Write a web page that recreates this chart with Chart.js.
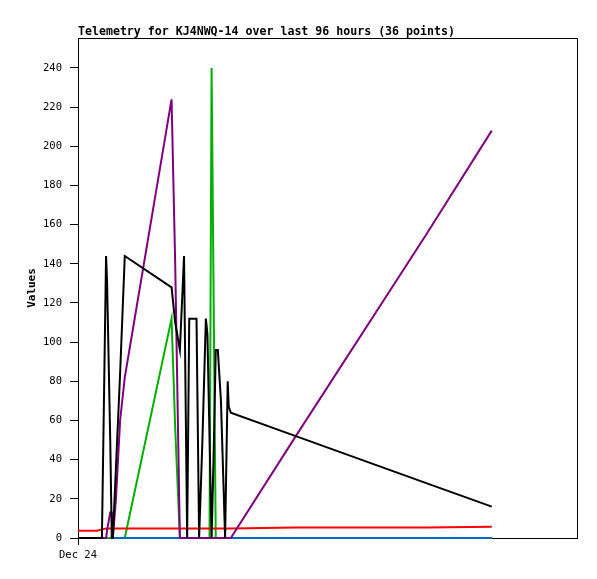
<!DOCTYPE HTML>
<html>
<head>
    <script src="https://cdn.jsdelivr.net/npm/chart.js"></script>
    <style>
        body { margin: 0; background: white; }
    </style>
</head>
<body>

<canvas id="telemetryChart" width="597" height="579"></canvas>

<script type="text/javascript">

    const titleText = 'Telemetry for KJ4NWQ-14 over last 96 hours (36 points)';

    // hours since Dec 24 00:00
    const times = [0, 3.7, 4.6, 5.4, 5.6, 6.2, 6.5, 6.7, 7.3, 8.1,
                   9.0, 18.0, 18.7, 19.6, 20.4, 21.0, 21.4, 22.1, 22.8, 23.3,
                   23.9, 24.6, 24.9, 25.3, 25.7, 26.1, 26.5, 26.9, 27.5, 28.3,
                   28.8, 29.0, 29.4, 41.9, 67.0, 79.6];

    const blackValues  = [0, 0, 0, 144, 130, 50, 0, 0, 36, 84,
                          144, 128, 110, 96, 144, 0, 112, 112, 112, 0,
                          47, 112, 104, 52, 0, 43, 96, 96, 70, 0,
                          80, 67, 64, 52, 28, 16];
    const purpleValues = [0, 0, 0, 0, 4, 13, 13, 0, 20, 60,
                          82, 224, 140, 0, 0, 0, 0, 0, 0, 0,
                          0, 0, 0, 0, 0, 0, 0, 0, 0, 0,
                          0, 0, 0, 52, 155, 208];
    const greenValues  = [0, 0, 0, 0, 0, 0, 0, 0, 0, 0,
                          0, 112, 56, 0, 0, 0, 0, 0, 0, 0,
                          0, 0, 0, 0, 240, 120, 0, 0, 0, 0,
                          0, 0, 0, 0, 0, 0];
    const redValues    = [3.7, 3.7, 4.4, 4.9, 4.9, 4.9, 4.9, 4.9, 4.9, 4.9,
                          4.9, 4.9, 4.9, 4.9, 4.9, 4.9, 4.9, 4.9, 4.9, 4.9,
                          4.9, 4.9, 4.9, 4.9, 4.9, 4.9, 4.9, 4.9, 4.9, 4.9,
                          4.9, 4.9, 4.9, 5.3, 5.3, 5.8];
    const blueValues   = [null, null, null, null, null, null, null, 0, 0, 0,
                          0, 0, 0, 0, 0, 0, 0, 0, 0, 0,
                          0, 0, 0, 0, 0, 0, 0, 0, 0, 0,
                          0, 0, 0, 0, 0, 0];

    const xTickLabels = { 0: 'Dec 24' };
    const yStep = 20;

    function toPoints(values) {
        return times.map((t, i) => ({ x: t, y: values[i] }));
    }

    function lineSet(label, values, color) {
        return {
            label: label,
            data: toPoints(values),
            borderColor: color,
            backgroundColor: color,
            borderWidth: 2,
            pointRadius: 0,
            tension: 0,
            fill: false,
            spanGaps: false,
            clip: false
        };
    }

    const framePlugin = {
        id: 'frame',
        afterDraw(chart) {
            const ctx = chart.ctx;
            const a = chart.chartArea;
            ctx.save();
            ctx.strokeStyle = '#000';
            ctx.lineWidth = 1;
            ctx.beginPath();
            ctx.moveTo(a.left, Math.round(a.top) + 0.5);
            ctx.lineTo(Math.round(a.right) + 0.5, Math.round(a.top) + 0.5);
            ctx.lineTo(Math.round(a.right) + 0.5, a.bottom);
            ctx.stroke();
            ctx.font = 'bold 11.6px "DejaVu Sans Mono", monospace';
            ctx.fillStyle = '#000';
            ctx.textBaseline = 'alphabetic';
            ctx.fillText(titleText, a.left, 35);
            ctx.restore();
        }
    };

    Chart.defaults.font.family = '"DejaVu Sans Mono", monospace';
    Chart.defaults.color = '#000';

    // first dataset is drawn on top
    const telemetryChart = new Chart(document.getElementById('telemetryChart'), {
        type: 'line',
        data: {
            datasets: [
                lineSet('black', blackValues, '#000000'),
                lineSet('purple', purpleValues, '#7f007f'),
                lineSet('blue', blueValues, '#0066cc'),
                lineSet('red', redValues, '#ff0000'),
                lineSet('green', greenValues, '#00b000')
            ]
        },
        options: {
            responsive: false,
            animation: false,
            layout: { padding: { left: 0, right: 20, top: 38, bottom: 0 } },
            plugins: {
                legend: { display: false },
                title: { display: false },
                tooltip: { enabled: false }
            },
            scales: {
                x: {
                    type: 'linear',
                    min: 0,
                    max: 96,
                    afterBuildTicks: function (scale) {
                        scale.ticks = Object.keys(xTickLabels).map(v => ({ value: Number(v) }));
                    },
                    afterFit: function (scale) {
                        scale.height = 41;
                    },
                    ticks: {
                        font: { size: 10.5 },
                        padding: 4,
                        maxRotation: 0,
                        callback: function (value) {
                            return xTickLabels[value] || '';
                        }
                    },
                    grid: {
                        drawOnChartArea: false,
                        tickLength: 7,
                        color: '#000'
                    },
                    border: { display: true, color: '#000', width: 1 }
                },
                y: {
                    type: 'linear',
                    min: 0,
                    max: 255.3,
                    afterBuildTicks: function (scale) {
                        scale.ticks = scale.ticks.filter(t => t.value % yStep === 0);
                    },
                    afterFit: function (scale) {
                        scale.width = 78;
                    },
                    ticks: {
                        stepSize: yStep,
                        font: { size: 10.5 },
                        padding: 8
                    },
                    grid: {
                        drawOnChartArea: false,
                        tickLength: 8,
                        color: '#000'
                    },
                    border: { display: true, color: '#000', width: 1 },
                    title: {
                        display: true,
                        text: 'Values',
                        font: { size: 11, weight: 'bold' },
                        padding: { top: 26, bottom: 0 }
                    }
                }
            }
        },
        plugins: [framePlugin]
    });

</script>
</body>
</html>
